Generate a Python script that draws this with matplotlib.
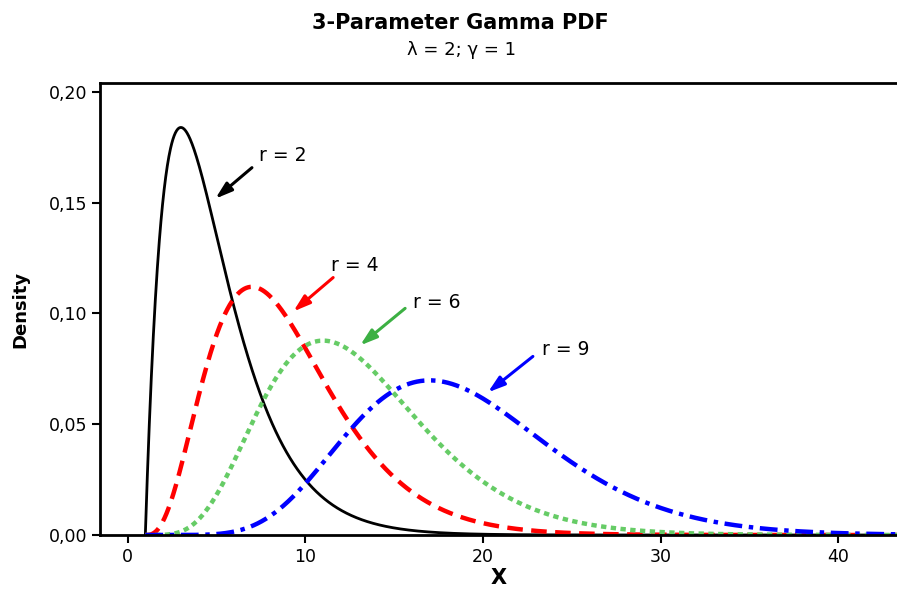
import math
import numpy as np
import matplotlib
matplotlib.use("Agg")
import matplotlib.pyplot as plt

# Three-parameter gamma: shape r, scale lambda, threshold gamma
scale_lam = 2.0
threshold = 1.0
shapes = [2, 4, 6, 9]
labels = ["r = 2", "r = 4", "r = 6", "r = 9"]
colors = ["black", "#ff0000", "#66cc66", "#0000ff"]
arrow_colors = ["black", "#ff0000", "#3cb043", "#0000ff"]
y_ticks = [0.00, 0.05, 0.10, 0.15, 0.20]
y_tick_labels = ["0,00", "0,05", "0,10", "0,15", "0,20"]
x_ticks = [0, 10, 20, 30, 40]

# annotation geometry: (text x, text y, arrow tail x, tail y, head x, head y)
annot = [
    (7.4, 0.1712, 7.0, 0.1658, 4.94, 0.1518),
    (11.45, 0.1216, 11.57, 0.1162, 9.33, 0.1009),
    (16.05, 0.1050, 15.62, 0.1023, 13.09, 0.0856),
    (23.3, 0.0838, 22.81, 0.0806, 20.28, 0.0644),
]


def gamma3_pdf(x, r, lam, thr):
    z = np.clip(x - thr, 0, None)
    return z ** (r - 1) * np.exp(-z / lam) / (math.gamma(r) * lam ** r)


x = np.linspace(threshold, 46, 2000)

fig = plt.figure(figsize=(8.97, 5.93), dpi=100)
ax = fig.add_axes([0.1115, 0.0978, 0.8885, 0.7622])

styles = [
    dict(lw=2.0, linestyle="-"),
    dict(lw=3.2, linestyle=(0, (3.5, 1.9))),
    dict(lw=3.2, linestyle=(0, (1.2, 1.0))),
    dict(lw=3.2, linestyle=(0, (4.0, 1.5, 1.0, 1.5))),
]

for r, c, st in zip(shapes, colors, styles):
    ax.plot(x, gamma3_pdf(x, r, scale_lam, threshold), color=c,
            dash_capstyle="butt", solid_capstyle="round", **st)

for lab, ac, (tx, ty, ax0, ay0, hx, hy) in zip(labels, arrow_colors, annot):
    ax.annotate("", xy=(hx, hy), xytext=(ax0, ay0),
                arrowprops=dict(arrowstyle="-|>,head_length=1.0,head_width=0.32",
                                color=ac, lw=2.2, shrinkA=0, shrinkB=0))
    ax.text(tx, ty, lab, fontsize=13.5, ha="left", va="center", color="black")

ax.set_xlim(-1.55, 43.3)
ax.set_ylim(0, 0.204)
ax.set_xticks(x_ticks)
ax.set_yticks(y_ticks)
ax.set_yticklabels(y_tick_labels)
ax.tick_params(axis="both", direction="out", length=6, width=1.5,
               labelsize=12.5, pad=3)

for side in ("left", "bottom", "top"):
    ax.spines[side].set_linewidth(2.0)
ax.spines["right"].set_visible(False)

ax.set_xlabel("X", fontsize=15, fontweight="bold", labelpad=2)
ax.set_ylabel("Density", fontsize=13, fontweight="bold", labelpad=14)

fig.text(0.513, 0.962, "3-Parameter Gamma PDF", ha="center", va="center",
         fontsize=15, fontweight="bold")
fig.text(0.515, 0.915, "\u03bb = 2; \u03b3 = 1", ha="center", va="center",
         fontsize=13)

fig.savefig("out.png", dpi=100)
